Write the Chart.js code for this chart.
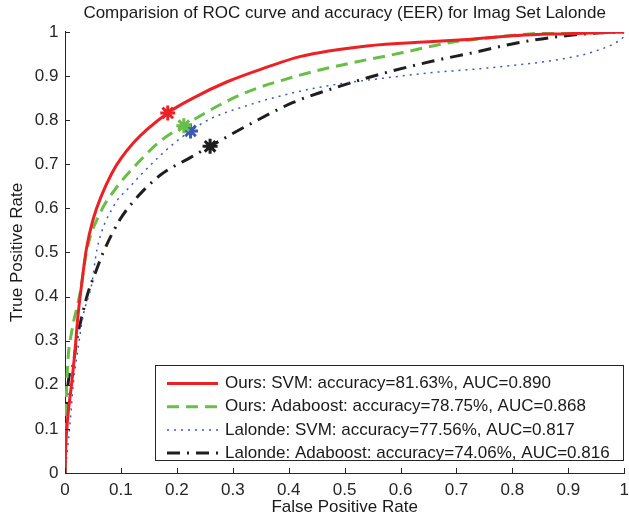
<!DOCTYPE html>
<html>
<head>
<meta charset="utf-8">
<script src="https://cdn.jsdelivr.net/npm/chart.js@4"></script>
<style>
  html, body { margin: 0; padding: 0; background: #fff; overflow: hidden; }
</style>
</head>
<body>
<!-- canvas is a few px wider than the window: Chart.js keeps ~12px right of the axes for the last tick label -->
<canvas id="roc" width="636" height="518"></canvas>
<script>
// ROC curves: false positive rate / true positive rate
var oursSvmFpr = [0, 0.001, 0.005, 0.012, 0.018, 0.023, 0.03, 0.038, 0.05, 0.084, 0.122, 0.1837, 0.229, 0.29, 0.361, 0.42, 0.54, 0.658, 0.719, 0.81, 0.9, 1];
var oursSvmTpr = [0, 0.05, 0.127, 0.204, 0.279, 0.354, 0.43, 0.506, 0.574, 0.68, 0.748, 0.8163, 0.85, 0.887, 0.92, 0.944, 0.968, 0.978, 0.983, 0.992, 0.996, 1];

var oursAdaFpr = [0, 0.002, 0.005, 0.012, 0.027, 0.039, 0.063, 0.089, 0.134, 0.17, 0.2125, 0.313, 0.42, 0.51, 0.6, 0.689, 0.778, 0.85, 1];
var oursAdaTpr = [0, 0.15, 0.25, 0.32, 0.408, 0.506, 0.59, 0.642, 0.708, 0.752, 0.7875, 0.857, 0.902, 0.929, 0.952, 0.976, 0.989, 0.997, 1];

var lalSvmFpr = [0, 0.003, 0.009, 0.015, 0.023, 0.032, 0.048, 0.057, 0.086, 0.116, 0.152, 0.188, 0.2244, 0.26, 0.318, 0.408, 0.49, 0.569, 0.658, 0.719, 0.808, 0.886, 0.945, 0.993, 1];
var lalSvmTpr = [0, 0.036, 0.113, 0.204, 0.279, 0.354, 0.43, 0.506, 0.603, 0.649, 0.697, 0.74, 0.7756, 0.803, 0.83, 0.862, 0.882, 0.895, 0.908, 0.914, 0.925, 0.938, 0.955, 0.982, 0.99];

var lalAdaFpr = [0, 0.001, 0.005, 0.015, 0.021, 0.03, 0.041, 0.054, 0.068, 0.098, 0.122, 0.17, 0.224, 0.2594, 0.325, 0.408, 0.492, 0.569, 0.658, 0.73, 0.808, 0.886, 0.957, 1];
var lalAdaTpr = [0, 0.09, 0.195, 0.249, 0.302, 0.354, 0.408, 0.453, 0.499, 0.574, 0.615, 0.675, 0.715, 0.7406, 0.787, 0.84, 0.877, 0.906, 0.934, 0.953, 0.975, 0.99, 0.998, 1];

// equal error rate points (asterisks)
var eerFpr = [0.1837, 0.2125, 0.2244, 0.2594];
var eerTpr = [0.8163, 0.7875, 0.7756, 0.7406];

var seriesLabels = [
    'Ours: SVM: accuracy=81.63%, AUC=0.890',
    'Ours: Adaboost: accuracy=78.75%, AUC=0.868',
    'Lalonde: SVM: accuracy=77.56%, AUC=0.817',
    'Lalonde: Adaboost: accuracy=74.06%, AUC=0.816'
];
var tickValues = [0, 0.1, 0.2, 0.3, 0.4, 0.5, 0.6, 0.7, 0.8, 0.9, 1];

var colours = ['rgb(237, 32, 38)', 'rgb(104, 190, 72)', 'rgb(60, 90, 180)', 'rgb(30, 30, 30)'];

function pts(xs, ys) {
    return xs.map(function (v, i) { return {x: v, y: ys[i]}; });
}

Chart.defaults.font.family = '"Liberation Sans", Arial, sans-serif';
Chart.defaults.color = '#262626';

// MATLAB style ticks pointing into the axes
var inwardTicks = {
    id: 'inwardTicks',
    afterDatasetsDraw: (chart) => {
        const {ctx, chartArea, scales} = chart;
        ctx.save();
        ctx.strokeStyle = '#262626';
        ctx.lineWidth = 1;
        ctx.beginPath();
        scales.x.ticks.forEach(t => {
            const px = Math.round(scales.x.getPixelForValue(t.value)) + 0.5;
            ctx.moveTo(px, chartArea.bottom);
            ctx.lineTo(px, chartArea.bottom - 5);
        });
        scales.y.ticks.forEach(t => {
            const py = Math.round(scales.y.getPixelForValue(t.value)) + 0.5;
            ctx.moveTo(chartArea.left, py);
            ctx.lineTo(chartArea.left + 5, py);
        });
        ctx.stroke();
        ctx.restore();
    }
};

// boxed legend inside the lower right of the axes
var boxLegend = {
    id: 'boxLegend',
    afterDatasetsDraw: (chart) => {
        const {ctx, chartArea} = chart;
        const right = chartArea.right - 1, bottom = chartArea.bottom - 13;
        const left = 155, top = bottom - 95;
        ctx.save();
        ctx.fillStyle = '#fff';
        ctx.fillRect(left, top, right - left, bottom - top);
        ctx.strokeStyle = '#262626';
        ctx.lineWidth = 1;
        ctx.strokeRect(Math.round(left) + 0.5, Math.round(top) + 0.5, Math.round(right - left), Math.round(bottom - top));
        ctx.font = '17px "Liberation Sans", Arial, sans-serif';
        ctx.textBaseline = 'middle';
        ctx.textAlign = 'left';
        for (let i = 0; i < 4; i++) {
            const ds = chart.data.datasets[i];
            const y = top + 18.5 + i * 23.2;
            ctx.strokeStyle = ds.borderColor;
            ctx.lineWidth = ds.borderWidth;
            ctx.setLineDash(ds.borderDash || []);
            ctx.beginPath();
            ctx.moveTo(167, y);
            ctx.lineTo(218, y);
            ctx.stroke();
            ctx.setLineDash([]);
            ctx.fillStyle = '#1a1a1a';
            ctx.fillText(ds.label, 225, y);
        }
        ctx.restore();
    }
};

function curve(i, xs, ys, width, dash) {
    return {
        label: seriesLabels[i],
        data: pts(xs, ys),
        showLine: true,
        borderColor: colours[i],
        backgroundColor: colours[i],
        borderWidth: width,
        borderDash: dash,
        pointRadius: 0,
        cubicInterpolationMode: 'monotone',
        order: i + 1
    };
}

var eerPoints = eerFpr.map(function (v, i) {
    return {
        label: 'EER ' + (i + 1),
        data: [{x: v, y: eerTpr[i]}],
        pointStyle: 'star',
        pointRadius: 7.5,
        borderWidth: 3,
        borderColor: colours[i],
        backgroundColor: colours[i],
        showLine: false,
        order: 0
    };
});

function tickLabel(v) {
    return String(Math.round(v * 10) / 10);
}

const roc = document.getElementById('roc');
new Chart(roc, {
    type: 'scatter',
    data: {
        datasets: [
            curve(0, oursSvmFpr, oursSvmTpr, 3, []),
            curve(1, oursAdaFpr, oursAdaTpr, 3, [12, 7]),
            curve(2, lalSvmFpr, lalSvmTpr, 1.5, [2, 5]),
            curve(3, lalAdaFpr, lalAdaTpr, 3, [13, 7, 2, 7])
        ].concat(eerPoints)
    },
    options: {
        responsive: false,
        animation: false,
        devicePixelRatio: 1,
        layout: {
            padding: {left: 0, right: 0, top: 0, bottom: 0}
        },
        plugins: {
            legend: {display: false},
            tooltip: {enabled: false},
            title: {
                display: true,
                fullSize: false,
                text: 'Comparision of ROC curve and accuracy (EER) for Imag Set Lalonde',
                color: '#1a1a1a',
                font: {size: 17, weight: 'normal'},
                padding: {top: 3.5, bottom: 8}
            }
        },
        scales: {
            x: {
                type: 'linear',
                min: 0,
                max: 1,
                grid: {display: false, drawTicks: false},
                border: {display: true, color: '#262626', width: 1},
                afterBuildTicks: (scale) => {
                    scale.ticks = tickValues.map(v => ({value: v}));
                },
                ticks: {
                    padding: 7,
                    color: '#262626',
                    font: {size: 17},
                    callback: (v) => tickLabel(v)
                },
                title: {
                    display: true,
                    text: 'False Positive Rate',
                    color: '#1a1a1a',
                    font: {size: 17},
                    padding: {top: 0, bottom: 0}
                },
                afterFit: (scale) => { scale.height = 45; }
            },
            y: {
                type: 'linear',
                min: 0,
                max: 1,
                grid: {display: false, drawTicks: false},
                border: {display: true, color: '#262626', width: 1},
                afterBuildTicks: (scale) => {
                    scale.ticks = tickValues.map(v => ({value: v}));
                },
                ticks: {
                    padding: 6.5,
                    color: '#262626',
                    font: {size: 17},
                    callback: (v) => tickLabel(v)
                },
                title: {
                    display: true,
                    text: 'True Positive Rate',
                    color: '#1a1a1a',
                    font: {size: 17},
                    padding: {top: 7, bottom: 0}
                },
                afterFit: (scale) => { scale.width = 65; }
            }
        }
    },
    plugins: [inwardTicks, boxLegend]
});
</script>
</body>
</html>
